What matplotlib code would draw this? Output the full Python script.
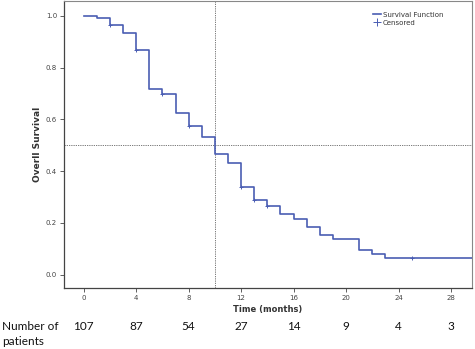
import matplotlib
matplotlib.use("Agg")
import matplotlib.pyplot as plt
from matplotlib.lines import Line2D

# Kaplan-Meier estimate (months, survival probability)
times = [0, 1, 2, 3, 4, 5, 6, 7, 8, 9, 10, 11, 12, 13, 14, 15, 16, 17, 18, 19, 21, 22, 23, 30]
survival = [1.0, 0.991, 0.963, 0.932, 0.866, 0.717, 0.697, 0.624, 0.573, 0.532, 0.466,
            0.431, 0.340, 0.288, 0.263, 0.233, 0.216, 0.185, 0.154, 0.139, 0.094,
            0.079, 0.062, 0.062]

# Censored observations
censor_times = [2, 4, 6, 8, 12, 13, 14, 25]
censor_surv = [0.963, 0.866, 0.697, 0.573, 0.340, 0.288, 0.263, 0.062]

median_time = 10
median_surv = 0.5

xticks = [0, 4, 8, 12, 16, 20, 24, 28]
yticks = [0.0, 0.2, 0.4, 0.6, 0.8, 1.0]
at_risk = [107, 87, 54, 27, 14, 9, 4, 3]

line_color = "#4a5db3"

fig = plt.figure(figsize=(4.75, 3.49), dpi=100)
ax = fig.add_axes([0.1347, 0.1748, 0.8590, 0.8222])

ax.step(times, survival, where="post", color=line_color, lw=1.2, zorder=3)
ax.plot(censor_times, censor_surv, ls="none", marker="+", ms=3.5, mew=0.7,
        color=line_color, zorder=4)

ax.axvline(median_time, color="#666666", ls=(0, (1.5, 1.2)), lw=0.6, zorder=2)
ax.axhline(median_surv, color="#666666", ls=(0, (1.5, 1.2)), lw=0.6, zorder=2)

ax.set_xlim(-1.5, 29.6)
ax.set_ylim(-0.052, 1.057)
ax.set_xticks(xticks)
ax.set_yticks(yticks)
ax.set_xticklabels([str(t) for t in xticks])
ax.set_yticklabels([f"{v:.1f}" for v in yticks])
ax.tick_params(axis="both", labelsize=5, colors="#444444", length=3, width=0.6,
               pad=2)

for side in ["left", "bottom"]:
    ax.spines[side].set_color("#444444")
    ax.spines[side].set_linewidth(0.9)
for side in ["top", "right"]:
    ax.spines[side].set_color("#888888")
    ax.spines[side].set_linewidth(0.8)

ax.set_xlabel("Time (months)", fontsize=6, fontweight="bold", color="#333333",
              labelpad=3)
ax.set_ylabel("Overll Survival", fontsize=6.5, fontweight="bold", color="#333333",
              labelpad=3)

handles = [Line2D([], [], color=line_color, lw=1.2),
           Line2D([], [], color=line_color, ls="none", marker="+", ms=6, mew=0.7)]
ax.legend(handles, ["Survival Function", "Censored"], loc="upper right",
          bbox_to_anchor=(0.945, 0.985), fontsize=5, frameon=False,
          handlelength=1.2, handletextpad=0.2, labelspacing=0.3,
          labelcolor="#333333")

# Number at risk row beneath the time axis
row_y = -0.135
for t, n in zip(xticks, at_risk):
    ax.text(t, row_y, str(n), transform=ax.get_xaxis_transform(), ha="center",
            va="center", fontsize=8.5, family="Lato", color="#111111", clip_on=False)
fig.text(0.004, 1 - 326.5 / 349, "Number of", ha="left", va="center", fontsize=8.5,
         family="Lato", color="#111111")
fig.text(0.004, 1 - 341.5 / 349, "patients", ha="left", va="center", fontsize=8.5,
         family="Lato", color="#111111")

fig.savefig("out.png", dpi=100)
